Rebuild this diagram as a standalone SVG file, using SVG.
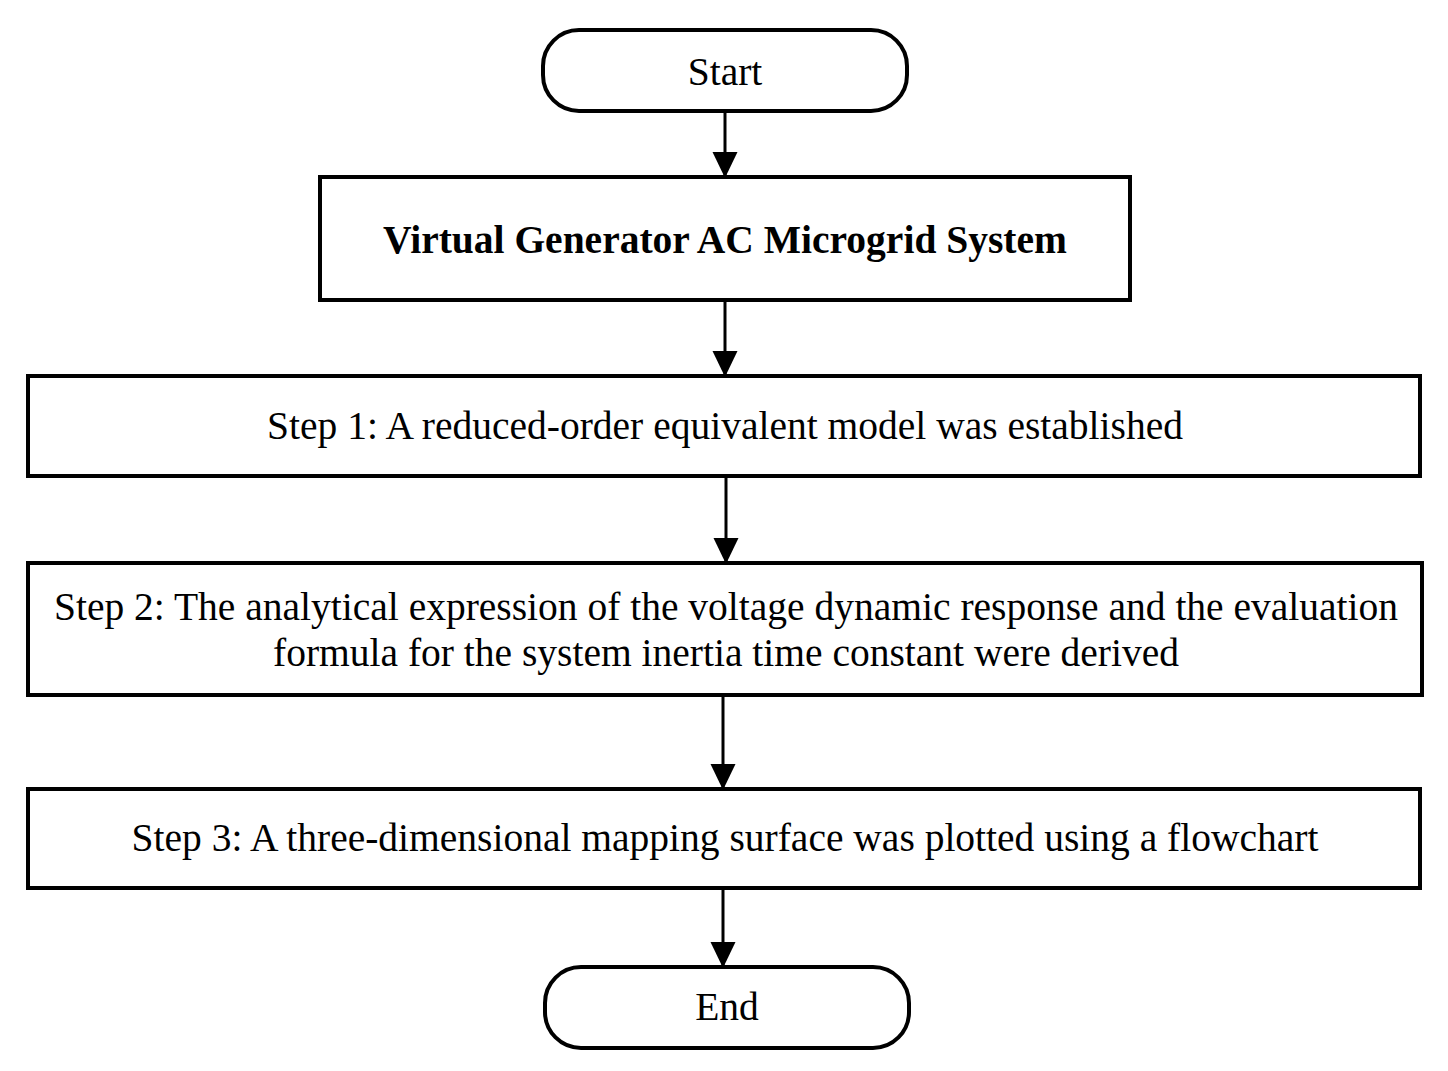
<svg xmlns="http://www.w3.org/2000/svg" width="1448" height="1071" viewBox="0 0 1448 1071">
<style>
.box{fill:#fff;stroke:#000;stroke-width:4}
.t{font-family:"Liberation Serif","Times New Roman",serif;font-size:39.5px;fill:#000;text-anchor:middle}
.b{font-weight:bold}
.c{stroke:#000;stroke-width:3;fill:none}
</style>
<defs>
<marker id="ah" markerUnits="userSpaceOnUse" markerWidth="26" markerHeight="26" refX="25" refY="12.5" orient="auto" viewBox="0 0 26 25">
<path d="M0,0 L26,12.5 L0,25 Z" fill="#000"/>
</marker>
</defs>
<rect width="1448" height="1071" fill="#fff"/>
<g id="connectors">
<line class="c" x1="725" y1="111" x2="725" y2="177" marker-end="url(#ah)"/>
<line class="c" x1="725" y1="300" x2="725" y2="376" marker-end="url(#ah)"/>
<line class="c" x1="726" y1="476" x2="726" y2="563" marker-end="url(#ah)"/>
<line class="c" x1="723" y1="695" x2="723" y2="789" marker-end="url(#ah)"/>
<line class="c" x1="723" y1="888" x2="723" y2="967" marker-end="url(#ah)"/>
</g>
<g id="start">
<rect class="box" x="543" y="30" width="364" height="81" rx="36" ry="36"/>
<text class="t" x="725" y="85">Start</text>
</g>
<g id="system">
<rect class="box" x="320" y="177" width="810" height="123"/>
<text class="t b" x="725" y="253">Virtual Generator AC Microgrid System</text>
</g>
<g id="step1">
<rect class="box" x="28" y="376" width="1392" height="100"/>
<text class="t" x="725" y="439">Step 1: A reduced-order equivalent model was established</text>
</g>
<g id="step2">
<rect class="box" x="28" y="563" width="1394" height="132"/>
<text class="t" x="726" y="620">Step 2: The analytical expression of the voltage dynamic response and the evaluation</text>
<text class="t" x="726" y="666">formula for the system inertia time constant were derived</text>
</g>
<g id="step3">
<rect class="box" x="28" y="789" width="1392" height="99"/>
<text class="t" x="725" y="851">Step 3: A three-dimensional mapping surface was plotted using a flowchart</text>
</g>
<g id="end">
<rect class="box" x="545" y="967" width="364" height="81" rx="36" ry="36"/>
<text class="t" x="727" y="1020">End</text>
</g>
</svg>
